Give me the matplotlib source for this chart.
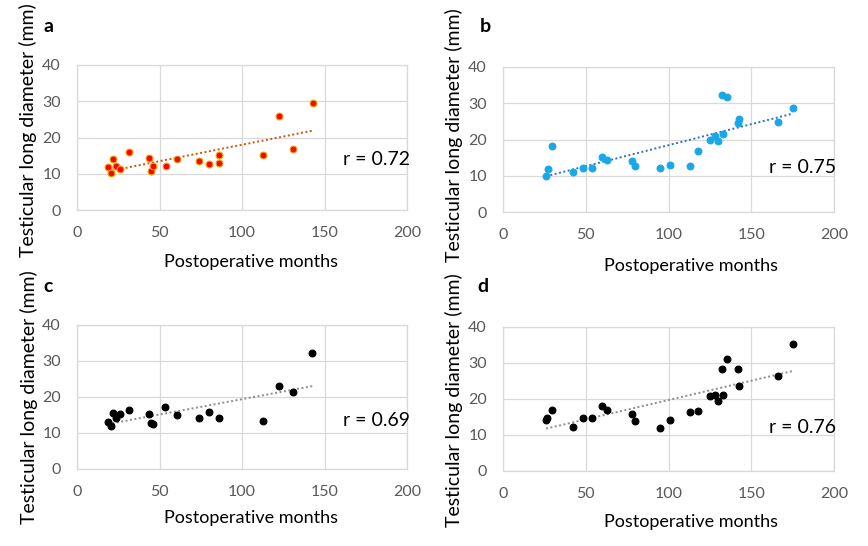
import numpy as np
import matplotlib
matplotlib.use("Agg")
import matplotlib.pyplot as plt

plt.rcParams['font.family'] = ['Lato', 'DejaVu Sans']

# Panel a
a_x = [18.8, 20.8, 21.6, 23.8, 25.8, 31.7, 43.6, 44.6, 45.8, 53.7, 60.5, 73.8, 79.9, 86.0, 86.0, 112.8, 122.7, 131.0, 142.9]
a_y = [11.8, 10.2, 14.0, 12.2, 11.4, 16.1, 14.3, 10.7, 12.1, 12.1, 14.0, 13.4, 12.8, 15.3, 13.1, 15.2, 26.0, 16.8, 29.4]
# Panel b
b_x = [26.0, 27.0, 29.8, 42.1, 48.2, 54.0, 60.1, 63.1, 78.0, 80.0, 95.0, 101.0, 112.9, 118.1, 125.0, 128.2, 130.0, 132.1, 133.1, 135.1, 141.9, 142.9, 166.1, 175.0]
b_y = [9.8, 11.8, 18.3, 11.0, 12.2, 12.1, 15.2, 14.4, 14.1, 12.6, 12.2, 13.1, 12.7, 16.7, 19.9, 21.1, 19.7, 32.4, 21.4, 31.6, 24.5, 25.6, 24.8, 28.8]
# Panel c
c_x = [18.8, 20.8, 21.6, 23.8, 25.8, 31.7, 43.5, 44.6, 45.8, 53.6, 60.5, 73.8, 79.8, 85.9, 112.7, 122.6, 130.8, 142.7]
c_y = [13.0, 11.9, 15.5, 14.1, 15.2, 16.4, 15.3, 12.8, 12.4, 17.1, 14.9, 14.3, 15.8, 14.2, 13.2, 23.0, 21.5, 32.1]
# Panel d
d_x = [26.0, 26.6, 29.8, 42.1, 48.2, 54.0, 60.1, 63.1, 78.0, 80.0, 95.0, 101.0, 112.9, 118.1, 125.0, 128.2, 130.0, 132.1, 133.1, 135.1, 141.9, 142.9, 166.1, 175.0]
d_y = [14.3, 14.8, 17.0, 12.1, 14.7, 14.7, 18.0, 16.9, 15.9, 14.0, 12.0, 14.1, 16.4, 16.8, 20.7, 21.2, 19.4, 28.3, 21.0, 31.2, 28.2, 23.6, 26.5, 35.3]

panel_labels = ['a', 'b', 'c', 'd']
r_texts = ['r = 0.72', 'r = 0.75', 'r = 0.69', 'r = 0.76']
x_label = 'Postoperative months'
y_label = 'Testicular long diameter (mm)'
x_ticks = [0, 50, 100, 150, 200]
y_ticks = [0, 10, 20, 30, 40]

W, H = 868, 546
fig = plt.figure(figsize=(W / 100, H / 100), dpi=100)

def fx(px):
    return px / W

def fy(py):
    return 1 - py / H

# axes boxes in pixels: left, right, top, bottom
boxes = [(77, 407, 65, 210), (503, 834, 67, 212), (77, 407, 325, 469), (503, 834, 327, 471)]
datasets = [(a_x, a_y), (b_x, b_y), (c_x, c_y), (d_x, d_y)]
face = ['#FF0000', '#1AA7E8', '#000000', '#000000']
edge = ['#F4A300', '#1AA7E8', '#000000', '#000000']
trend_col = ['#D35400', '#2E6FC0', '#8C8C8C', '#8C8C8C']
r_pos = [(0.909, 0.345), (0.906, 0.31), (0.909, 0.34), (0.906, 0.303)]
label_pos = [(43, 27), (480, 27), (43, 287), (477, 287)]
xlabel_pos = [(251, 262), (691, 266), (251, 518), (691, 522)]
ylabel_pos = [(28, 130), (454, 135), (29, 397), (454, 400)]

for i, ((l, r, t, b), (xs, ys)) in enumerate(zip(boxes, datasets)):
    ax = fig.add_axes([fx(l), fy(b), (r - l) / W, (b - t) / H])
    xs = np.array(xs); ys = np.array(ys)
    ax.set_xlim(0, 200); ax.set_ylim(0, 40)
    ax.set_xticks(x_ticks); ax.set_yticks(y_ticks)
    ax.grid(True, color='#D9D9D9', lw=0.9)
    ax.set_axisbelow(True)
    for s in ax.spines.values():
        s.set_color('#D9D9D9'); s.set_linewidth(0.9)
    ax.tick_params(length=0, labelsize=11.5, labelcolor='#595959', pad=11.5)
    ax.scatter(xs, ys, s=24, c=face[i], edgecolors=edge[i], linewidths=0.8, zorder=3)
    k, c0 = np.polyfit(xs, ys, 1)
    xx = np.array([xs.min(), xs.max()])
    ax.plot(xx, k * xx + c0, ls=(0, (1, 1.3)), color=trend_col[i], lw=1.4, zorder=2)
    ax.text(r_pos[i][0], r_pos[i][1], r_texts[i], transform=ax.transAxes, fontsize=14,
            ha='center', va='center', color='#000000')
    fig.text(fx(xlabel_pos[i][0]), fy(xlabel_pos[i][1]), x_label, fontsize=13,
             ha='center', va='center')
    fig.text(fx(ylabel_pos[i][0]), fy(ylabel_pos[i][1]), y_label, fontsize=14,
             ha='center', va='center', rotation=90)
    fig.text(fx(label_pos[i][0]), fy(label_pos[i][1]), panel_labels[i], fontsize=14,
             fontweight='bold', ha='left', va='center')

fig.savefig('out.png', dpi=100)
